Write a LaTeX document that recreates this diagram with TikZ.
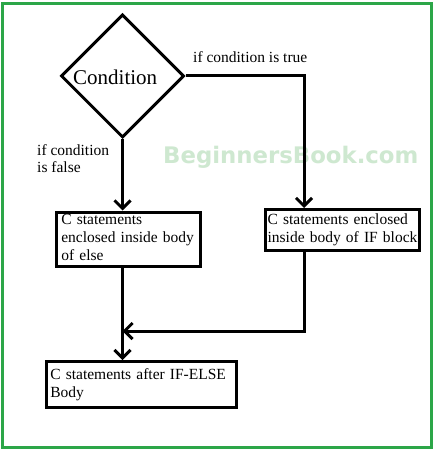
\documentclass[tikz,border=0pt]{standalone}
\usepackage{fontspec}
\setmainfont{Liberation Serif}
\newfontfamily\wmfont{DejaVu Sans}
\usetikzlibrary{shapes.geometric,arrows.meta}
\definecolor{framegreen}{RGB}{44,166,72}
\definecolor{wmgreen}{RGB}{206,232,208}
\tikzset{
  boxnode/.style={draw=black, line width=3pt, fill=white, align=left, inner ysep=0pt,
    font=\fontsize{15.5}{18}\selectfont},
  conn/.style={draw=black, line width=3pt},
  arr/.style={conn, -{Straight Barb[length=8pt,width=16pt]}},
  lbl/.style={inner sep=0pt, font=\fontsize{15.5}{17}\selectfont, align=left},
}
\begin{document}
\begin{tikzpicture}[x=1pt,y=-1pt]
\fill[white] (0,0) rectangle (437,454);
\useasboundingbox (0,0) rectangle (437,454);
\draw[framegreen, line width=3pt] (2.5,3.5) rectangle (431,447);
% watermark
\node[anchor=base west, inner sep=0pt, text=wmgreen, font=\wmfont\bfseries\fontsize{22.8}{26}\selectfont] (wm) at (163,164) {BeginnersBook.com};
% decision
\node[diamond, draw=black, line width=3pt, minimum width=123pt, minimum height=123pt, inner sep=0pt] (cond) at (122.5,76) {};
\node[anchor=base west, inner sep=0pt, font=\fontsize{21}{24}\selectfont] (condtxt) at (73,85) {Condition};
% boxes
\node[boxnode, minimum width=144pt, minimum height=51pt, inner xsep=4.8pt, text width=134.4pt] (lbox) at (128.5,239)
  {\strut\mbox{C statements}\\\mbox{enclosed inside body}\\\mbox{of else}\strut};
\node[boxnode, minimum width=153.5pt, minimum height=41pt, inner xsep=2.1pt, text width=149.3pt] (rbox) at (342.25,230)
  {\strut\mbox{C statements enclosed}\\\mbox{inside body of IF block}\strut};
\node[boxnode, minimum width=190pt, minimum height=46pt, inner xsep=3.8pt, text width=182.4pt] (bbox) at (141.5,384.5)
  {\strut\mbox{C statements after IF-ELSE}\\\mbox{Body}\strut};
% labels
\node[lbl, anchor=base west] (ltrue) at (193,63) {if condition is true};
\node[lbl, anchor=north west] (lfalse) at (37,143.1) {\strut if condition\\is false};
% connectors
\coordinate (tr) at (304,76);
\coordinate (jn) at (122.5,331);
\draw[arr] (cond.east) -- (tr) -- (tr |- rbox.north);
\draw[arr] (cond.south) -- (cond.south |- lbox.north);
\draw[arr] (cond.south |- lbox.south) -- (cond.south |- bbox.north);
\draw[arr] (rbox.south -| tr) -- (tr |- jn) -- (jn);
\end{tikzpicture}
\end{document}
